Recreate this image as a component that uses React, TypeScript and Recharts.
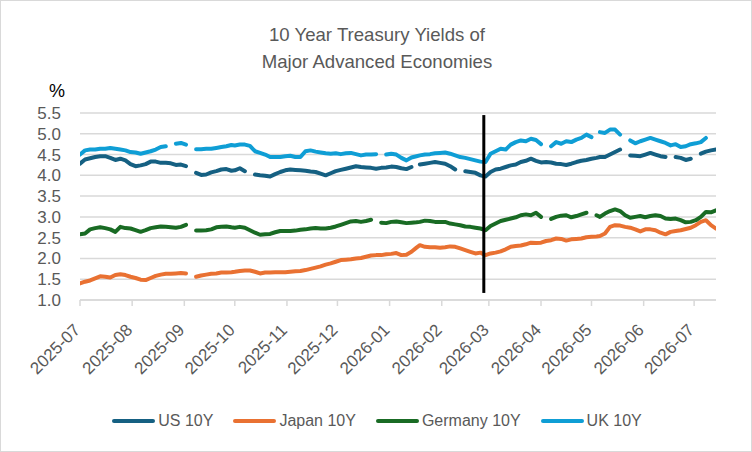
import React from 'react';
import { LineChart, Line, XAxis, YAxis, CartesianGrid, ReferenceLine } from 'recharts';

const dates: string[] = [
  '2025-07-01','2025-07-04','2025-07-07','2025-07-10','2025-07-13','2025-07-16','2025-07-19','2025-07-22','2025-07-25','2025-07-28',
  '2025-07-31','2025-08-03','2025-08-06','2025-08-09','2025-08-12','2025-08-15','2025-08-18','2025-08-21','2025-08-24','2025-08-27',
  '2025-08-30','2025-09-02','2025-09-05','2025-09-08','2025-09-11','2025-09-14','2025-09-17','2025-09-20','2025-09-23','2025-09-26',
  '2025-09-29','2025-10-01','2025-10-04','2025-10-07','2025-10-10','2025-10-13','2025-10-16','2025-10-19','2025-10-22','2025-10-25',
  '2025-10-28','2025-10-31','2025-11-03','2025-11-06','2025-11-09','2025-11-12','2025-11-15','2025-11-18','2025-11-21','2025-11-24',
  '2025-11-27','2025-11-30','2025-12-03','2025-12-06','2025-12-09','2025-12-12','2025-12-15','2025-12-18','2025-12-21','2025-12-24',
  '2025-12-27','2025-12-30','2026-01-02','2026-01-05','2026-01-08','2026-01-11','2026-01-14','2026-01-17','2026-01-19','2026-01-22',
  '2026-01-25','2026-01-28','2026-01-31','2026-02-03','2026-02-06','2026-02-09','2026-02-12','2026-02-15','2026-02-18','2026-02-21',
  '2026-02-24','2026-02-27','2026-03-02','2026-03-05','2026-03-08','2026-03-11','2026-03-14','2026-03-17','2026-03-20','2026-03-23',
  '2026-03-26','2026-03-29','2026-04-01','2026-04-04','2026-04-07','2026-04-10','2026-04-13','2026-04-16','2026-04-19','2026-04-22',
  '2026-04-25','2026-04-28','2026-05-01','2026-05-04','2026-05-06','2026-05-09','2026-05-12','2026-05-15','2026-05-18','2026-05-21',
  '2026-05-24','2026-05-27','2026-05-30','2026-06-02','2026-06-05','2026-06-08','2026-06-11','2026-06-14','2026-06-17','2026-06-20',
  '2026-06-23','2026-06-26','2026-06-29','2026-07-02','2026-07-05','2026-07-08','2026-07-11','2026-07-14',
];

const us10y: (number | null)[] = [
  4.28, 4.38, 4.41, 4.44, 4.46, 4.46, 4.42, 4.37, 4.40, 4.36,
  4.27, 4.22, 4.24, 4.27, 4.33, 4.33, 4.30, 4.30, 4.29, 4.25,
  4.26, 4.22, null, 4.06, 4.01, 4.02, 4.07, 4.10, 4.14, 4.15,
  4.11, 4.12, 4.17, 4.10, null, 4.02, 4.00, 3.99, 3.97, 4.03,
  4.08, 4.12, 4.14, 4.13, 4.12, 4.11, 4.09, 4.08, 4.04, 4.00,
  4.05, 4.10, 4.13, 4.16, 4.19, 4.22, 4.20, 4.19, 4.18, 4.16,
  4.18, 4.19, 4.21, 4.20, 4.17, 4.15, 4.20, null, 4.26, 4.28,
  4.30, 4.32, 4.30, 4.28, 4.22, 4.14, null, 4.10, 4.08, 4.06,
  4.00, 3.97, 4.08, 4.14, 4.16, 4.20, 4.24, 4.26, 4.32, 4.35,
  4.40, 4.35, 4.31, 4.32, 4.31, 4.28, 4.27, 4.25, 4.28, 4.32,
  4.35, 4.37, 4.40, 4.42, 4.44, 4.44, 4.50, 4.56, 4.62, null,
  4.48, 4.47, 4.46, 4.50, 4.54, 4.50, 4.46, 4.44, null, 4.44,
  4.42, 4.37, 4.40, null, 4.52, 4.57, 4.60, 4.62,
];

const japan10y: (number | null)[] = [
  1.40, 1.44, 1.47, 1.52, 1.57, 1.56, 1.54, 1.60, 1.62, 1.60,
  1.56, 1.53, 1.49, 1.48, 1.53, 1.58, 1.61, 1.63, 1.63, 1.64,
  1.65, 1.64, null, 1.56, 1.59, 1.61, 1.63, 1.64, 1.66, 1.66,
  1.67, 1.68, 1.70, 1.71, 1.71, 1.68, 1.64, 1.66, 1.66, 1.67,
  1.67, 1.67, 1.68, 1.69, 1.70, 1.72, 1.75, 1.78, 1.81, 1.85,
  1.88, 1.92, 1.96, 1.97, 1.98, 2.00, 2.01, 2.04, 2.07, 2.08,
  2.08, 2.10, 2.11, 2.13, 2.08, 2.09, 2.16, 2.26, 2.32, 2.28,
  2.27, 2.27, 2.26, 2.27, 2.29, 2.28, 2.24, 2.20, 2.16, 2.12,
  2.14, 2.08, 2.12, 2.14, 2.17, 2.22, 2.28, 2.30, 2.31, 2.34,
  2.38, 2.37, 2.38, 2.42, 2.44, 2.48, 2.47, 2.43, 2.46, 2.47,
  2.48, 2.51, 2.52, 2.53, 2.54, 2.60, 2.76, 2.80, 2.79, 2.76,
  2.74, 2.70, 2.65, 2.70, 2.70, 2.68, 2.62, 2.58, 2.64, 2.66,
  2.68, 2.71, 2.74, 2.80, 2.88, 2.92, 2.80, 2.72,
];

const germany10y: (number | null)[] = [
  2.58, 2.60, 2.70, 2.73, 2.75, 2.73, 2.70, 2.64, 2.76, 2.73,
  2.72, 2.68, 2.64, 2.68, 2.73, 2.75, 2.77, 2.76, 2.75, 2.74,
  2.76, 2.81, null, 2.67, 2.67, 2.68, 2.70, 2.75, 2.76, 2.77,
  2.75, 2.74, 2.76, 2.74, 2.68, 2.62, 2.57, 2.58, 2.59, 2.63,
  2.66, 2.66, 2.66, 2.67, 2.69, 2.70, 2.72, 2.73, 2.72, 2.72,
  2.74, 2.77, 2.81, 2.85, 2.89, 2.90, 2.88, 2.90, 2.93, null,
  2.86, 2.85, 2.88, 2.89, 2.87, 2.85, 2.86, 2.87, 2.88, 2.91,
  2.90, 2.88, 2.88, 2.88, 2.84, 2.82, 2.80, 2.77, 2.76, 2.74,
  2.72, 2.68, 2.78, 2.84, 2.90, 2.93, 2.96, 2.99, 3.04, 3.06,
  3.04, 3.10, 3.00, null, 2.95, 3.00, 3.03, 3.04, 2.99, 3.02,
  3.06, 3.10, null, 3.04, 3.00, 3.08, 3.14, 3.18, 3.14, 3.04,
  2.98, 3.00, 3.02, 2.99, 3.02, 3.04, 3.02, 2.96, 2.95, 2.96,
  2.92, 2.87, 2.88, 2.92, 3.00, 3.12, 3.11, 3.16,
];

const uk10y: (number | null)[] = [
  4.50, 4.60, 4.62, 4.62, 4.64, 4.64, 4.66, 4.64, 4.62, 4.60,
  4.56, 4.55, 4.52, 4.55, 4.58, 4.62, 4.68, 4.70, null, 4.76,
  4.78, 4.74, null, 4.63, 4.63, 4.64, 4.64, 4.66, 4.68, 4.70,
  4.73, 4.72, 4.74, 4.74, 4.71, 4.58, 4.54, 4.50, 4.44, 4.44,
  4.44, 4.46, 4.47, 4.44, 4.44, 4.58, 4.60, 4.57, 4.55, 4.53,
  4.52, 4.53, 4.51, 4.53, 4.54, 4.51, 4.48, 4.50, 4.50, 4.51,
  null, 4.50, 4.52, 4.50, 4.42, 4.36, 4.43, 4.46, 4.48, 4.50,
  4.51, 4.53, 4.54, 4.55, 4.52, 4.48, 4.44, 4.42, 4.39, 4.36,
  4.33, 4.32, 4.52, 4.58, 4.64, 4.62, 4.74, 4.80, 4.84, 4.82,
  4.88, 4.85, 4.75, null, 4.70, 4.80, 4.76, 4.82, 4.80, 4.86,
  4.90, 4.98, 4.92, null, 5.04, 5.02, 5.10, 5.10, 4.98, null,
  4.84, 4.77, 4.82, 4.86, 4.90, 4.86, 4.82, 4.78, 4.72, 4.75,
  4.68, 4.70, 4.75, 4.77, 4.80, 4.90, null, null,
];

const monthTicks: string[] = [
  '2025-07', '2025-08', '2025-09', '2025-10', '2025-11', '2025-12', '2026-01',
  '2026-02', '2026-03', '2026-04', '2026-05', '2026-06', '2026-07',
];
const yTicks: number[] = [1.0, 1.5, 2.0, 2.5, 3.0, 3.5, 4.0, 4.5, 5.0, 5.5];
const markerDate = '2026-02-26';
const markerRange: number[] = [1.17, 5.45];
const domainEnd = '2026-07-14';

const seriesInfo = [
  { key: 'us', name: 'US 10Y', color: '#156082' },
  { key: 'japan', name: 'Japan 10Y', color: '#E97132' },
  { key: 'germany', name: 'Germany 10Y', color: '#196B24' },
  { key: 'uk', name: 'UK 10Y', color: '#0F9ED5' },
];

const toTs = (d: string) => Date.parse(d.length === 7 ? d + '-01T00:00:00Z' : d + 'T00:00:00Z');

const data = dates.map((d, i) => ({
  t: toTs(d),
  us: us10y[i],
  japan: japan10y[i],
  germany: germany10y[i],
  uk: uk10y[i],
}));

const tickTs = monthTicks.map(toTs);
const labelFor = (ts: number) => {
  const i = tickTs.indexOf(ts);
  return i >= 0 ? monthTicks[i] : '';
};

const FONT = '"Liberation Sans", Arial, sans-serif';
const GRAY = '#595959';

const XTick = (props: any) => {
  const { x, y, payload } = props;
  const ax = x - 2;
  const ay = y + 20;
  return (
    <text
      x={ax}
      y={ay}
      transform={`rotate(-45, ${ax}, ${ay})`}
      textAnchor="end"
      dominantBaseline="middle"
      fill={GRAY}
      fontSize={17}
      fontFamily={FONT}
    >
      {labelFor(payload.value)}
    </text>
  );
};

export default function App() {
  const mt = toTs(markerDate);
  return (
    <div
      style={{
        position: 'absolute',
        left: 0,
        top: 0,
        width: 752,
        height: 452,
        boxSizing: 'border-box',
        border: '1px solid #d9d9d9',
        background: '#fff',
        fontFamily: FONT,
      }}
    >
      <div
        style={{
          position: 'absolute',
          left: 0,
          top: 20,
          width: 752,
          textAlign: 'center',
          color: GRAY,
          fontSize: 18.6,
          lineHeight: '27px',
          fontFamily: FONT,
        }}
      >
        10 Year Treasury Yields of
        <br />
        Major Advanced Economies
      </div>
      <div
        style={{
          position: 'absolute',
          left: 48,
          top: 80,
          fontSize: 18,
          color: '#000',
          fontFamily: FONT,
        }}
      >
        %
      </div>
      <div style={{ position: 'absolute', left: -1, top: -1 }}>
        <LineChart
          width={752}
          height={452}
          data={data}
          margin={{ top: 113, right: 36, bottom: 0, left: 0 }}
        >
          <CartesianGrid vertical={false} stroke="#d9d9d9" strokeWidth={1.5} />
          <XAxis
            dataKey="t"
            type="number"
            scale="linear"
            domain={[toTs(monthTicks[0]), toTs(domainEnd)]}
            ticks={tickTs}
            tick={<XTick />}
            interval={0}
            height={152}
            axisLine={{ stroke: '#d9d9d9', strokeWidth: 1.5 }}
            tickLine={{ stroke: '#d9d9d9', strokeWidth: 1.5 }}
            tickSize={6}
            allowDataOverflow
          />
          <YAxis
            domain={[1, 5.5]}
            ticks={yTicks}
            interval={0}
            width={80}
            axisLine={false}
            tickLine={false}
            tickMargin={13}
            tickFormatter={(v: number) => v.toFixed(1)}
            tick={{ fill: GRAY, fontSize: 17, fontFamily: FONT }}
            allowDataOverflow
          />
          {seriesInfo.map((s) => (
            <Line
              key={s.key}
              type="linear"
              dataKey={s.key}
              name={s.name}
              stroke={s.color}
              strokeWidth={4}
              strokeLinecap="round"
              strokeLinejoin="round"
              dot={false}
              activeDot={false}
              connectNulls={false}
              isAnimationActive={false}
            />
          ))}
          <ReferenceLine
            segment={[
              { x: mt, y: markerRange[0] },
              { x: mt, y: markerRange[1] },
            ]}
            stroke="#000"
            strokeWidth={3}
          />
        </LineChart>
      </div>
      <div
        style={{
          position: 'absolute',
          left: 0,
          top: 407,
          width: 752,
          display: 'flex',
          justifyContent: 'center',
          alignItems: 'center',
          paddingLeft: 0,
          boxSizing: 'border-box',
        }}
      >
        {seriesInfo.map((s) => (
          <div
            key={s.key}
            style={{ display: 'flex', alignItems: 'center', margin: '0 10px' }}
          >
            <span
              style={{
                display: 'inline-block',
                width: 43,
                height: 4,
                borderRadius: 2,
                background: s.color,
                marginRight: 3,
              }}
            />
            <span style={{ color: GRAY, fontSize: 16, lineHeight: '26px' }}>{s.name}</span>
          </div>
        ))}
      </div>
    </div>
  );
}
